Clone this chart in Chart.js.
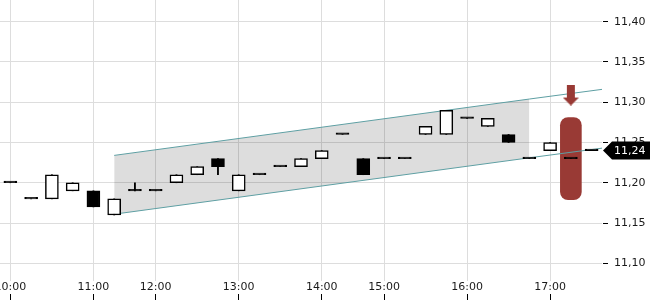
<!DOCTYPE html>
<html>
<head>
<meta charset="utf-8">
<script src="https://cdn.jsdelivr.net/npm/chart.js@4/dist/chart.umd.min.js"></script>
<style>
  body { margin: 0; background: #fff; }
  #wrap { width: 650px; height: 300px; position: relative; }
</style>
</head>
<body>
<div id="wrap"><canvas id="chart"></canvas></div>
<script>
// 15 min slots (some slots missing, axis is by slot, not by time)
const times = ["10:00", "10:15", "10:30", "10:45", "11:00", "11:15", "11:45", "12:00", "12:15", "12:30", "12:45",
  "13:00", "13:15", "13:30", "13:45", "14:00", "14:30", "14:45", "15:00", "15:15", "15:30", "15:45",
  "16:00", "16:15", "16:30", "16:45", "17:00", "17:15", "17:30"];
const openPrices = [11.20, 11.18, 11.18, 11.19, 11.19, 11.16, 11.19, 11.19, 11.20, 11.21, 11.23, 11.19, 11.21, 11.22, 11.22,
  11.23, 11.26, 11.23, 11.23, 11.23, 11.26, 11.26, 11.28, 11.27, 11.26, 11.23, 11.24, 11.23, 11.24];
const closePrices = [11.20, 11.18, 11.21, 11.20, 11.17, 11.18, 11.19, 11.19, 11.21, 11.22, 11.22, 11.21, 11.21, 11.22, 11.23,
  11.24, 11.26, 11.21, 11.23, 11.23, 11.27, 11.29, 11.28, 11.28, 11.25, 11.23, 11.25, 11.23, 11.24];
const highPrices = [11.20, 11.18, 11.21, 11.20, 11.19, 11.18, 11.20, 11.19, 11.21, 11.22, 11.23, 11.21, 11.21, 11.22, 11.23,
  11.24, 11.26, 11.23, 11.23, 11.23, 11.27, 11.29, 11.28, 11.28, 11.26, 11.23, 11.25, 11.23, 11.24];
const lowPrices = [11.20, 11.18, 11.18, 11.19, 11.17, 11.16, 11.19, 11.19, 11.20, 11.21, 11.21, 11.19, 11.21, 11.22, 11.22,
  11.23, 11.26, 11.21, 11.23, 11.23, 11.26, 11.26, 11.28, 11.27, 11.25, 11.23, 11.24, 11.23, 11.24];

// trend channel: slot positions and upper / lower values
const channelSlots = [5, 25, 28.5];
const channelUpper = [11.234, 11.304, 11.316];
const channelLower = [11.161, 11.231, 11.243];

// signal marker (red range + down arrow)
const signalSlot = 27;
const signalRange = [11.179, 11.281];
const signalArrow = 11.309;

const yTicks = [11.10, 11.15, 11.20, 11.25, 11.30, 11.35, 11.40];

const RED = "#993a35";
const TEAL = "#5e9fa3";
const GRID = "#dddddd";
const TEXT = "#1a1a1a";
const FONT = { family: "DejaVu Sans", size: 11 };

const slots = times.map((t, i) => i);
const hourSlots = slots.filter((i) => times[i].endsWith(":00"));
const fmt = (v) => v.toFixed(2).replace(".", ",");

const arrowImg = document.createElement("canvas");
arrowImg.width = 16;
arrowImg.height = 21;
const actx = arrowImg.getContext("2d");
actx.fillStyle = RED;
actx.fillRect(4, 0, 8, 14);
actx.beginPath();
actx.moveTo(0, 13);
actx.lineTo(16, 13);
actx.lineTo(8, 21);
actx.closePath();
actx.fill();

const lastPriceTag = {
  id: "lastPriceTag",
  afterDraw(chart) {
    const { ctx } = chart;
    const y = chart.scales.y.getPixelForValue(closePrices[closePrices.length - 1]);
    const x = chart.chartArea.right + 1;
    ctx.save();
    ctx.fillStyle = "#000";
    ctx.beginPath();
    ctx.moveTo(x, y);
    ctx.lineTo(x + 9, y - 9);
    ctx.lineTo(chart.width, y - 9);
    ctx.lineTo(chart.width, y + 9);
    ctx.lineTo(x + 9, y + 9);
    ctx.closePath();
    ctx.fill();
    ctx.fillStyle = "#fff";
    ctx.font = "11px 'DejaVu Sans'";
    ctx.textBaseline = "middle";
    ctx.fillText(fmt(closePrices[closePrices.length - 1]), x + 11, y + 0.5);
    ctx.restore();
  }
};

const line = (xs, ys) => xs.map((x, i) => ({ x, y: ys[i] }));

new Chart(document.getElementById("chart"), {
  type: "bar",
  data: {
    datasets: [
      {
        type: "line",
        data: line(channelSlots.slice(0, 2), channelUpper.slice(0, 2)),
        borderWidth: 0,
        pointRadius: 0,
        backgroundColor: "rgba(0,0,0,0.135)",
        fill: "+1",
        order: 9
      },
      {
        type: "line",
        data: line(channelSlots.slice(0, 2), channelLower.slice(0, 2)),
        borderWidth: 0,
        pointRadius: 0,
        fill: false,
        order: 9
      },
      {
        data: [{ x: signalSlot, y: signalRange }],
        backgroundColor: RED,
        barThickness: 21,
        borderRadius: 8,
        borderSkipped: false,
        grouped: false,
        order: 6
      },
      {
        type: "line",
        data: line(channelSlots, channelUpper),
        borderColor: TEAL,
        borderWidth: 1,
        pointRadius: 0,
        fill: false,
        order: 5
      },
      {
        type: "line",
        data: line(channelSlots, channelLower),
        borderColor: TEAL,
        borderWidth: 1,
        pointRadius: 0,
        fill: false,
        order: 5
      },
      {
        // wicks
        data: slots.map((i) => ({ x: i, y: [lowPrices[i], highPrices[i]] })),
        backgroundColor: "#000",
        barThickness: 1.2,
        grouped: false,
        order: 3
      },
      {
        // bodies
        data: slots.map((i) => ({ x: i, y: [openPrices[i], closePrices[i]] })),
        backgroundColor: slots.map((i) => (closePrices[i] > openPrices[i] ? "#fff" : "#000")),
        borderColor: "#000",
        borderWidth: 1.5,
        borderSkipped: false,
        barThickness: 13,
        minBarLength: 1.6,
        grouped: false,
        order: 2
      },
      {
        type: "line",
        data: [{ x: signalSlot, y: signalArrow }],
        showLine: false,
        pointStyle: arrowImg,
        pointRadius: 10,
        order: 1
      }
    ]
  },
  options: {
    responsive: true,
    maintainAspectRatio: false,
    animation: false,
    layout: { padding: 0, autoPadding: false },
    plugins: {
      legend: { display: false },
      tooltip: { enabled: false }
    },
    scales: {
      x: {
        type: "linear",
        offset: false,
        min: -0.5,
        max: slots.length - 0.5,
        afterBuildTicks: (scale) => {
          scale.ticks = hourSlots.map((v) => ({ value: v }));
        },
        afterFit: (scale) => {
          scale.paddingLeft = 0;
          scale.paddingRight = 0;
          scale.height = 19;
        },
        border: { display: false },
        grid: {
          offset: false,
          color: GRID,
          tickColor: "#000",
          tickLength: 19,
          tickBorderDash: [0, 13, 6, 100]
        },
        ticks: {
          font: FONT,
          color: TEXT,
          padding: -19,
          maxRotation: 0,
          autoSkip: false,
          callback: (v) => times[v]
        }
      },
      y: {
        position: "right",
        min: 11.078,
        max: 11.427,
        afterBuildTicks: (scale) => {
          scale.ticks = yTicks.map((v) => ({ value: v }));
        },
        afterFit: (scale) => {
          scale.width = 48;
          scale.paddingTop = 0;
          scale.paddingBottom = 0;
        },
        border: { display: false },
        grid: {
          color: GRID,
          tickColor: "#000",
          tickLength: 6,
          tickBorderDash: [0, 1, 5, 100]
        },
        ticks: {
          font: FONT,
          color: TEXT,
          padding: 6,
          callback: (v) => fmt(v)
        }
      }
    }
  },
  plugins: [lastPriceTag]
});
</script>
</body>
</html>
